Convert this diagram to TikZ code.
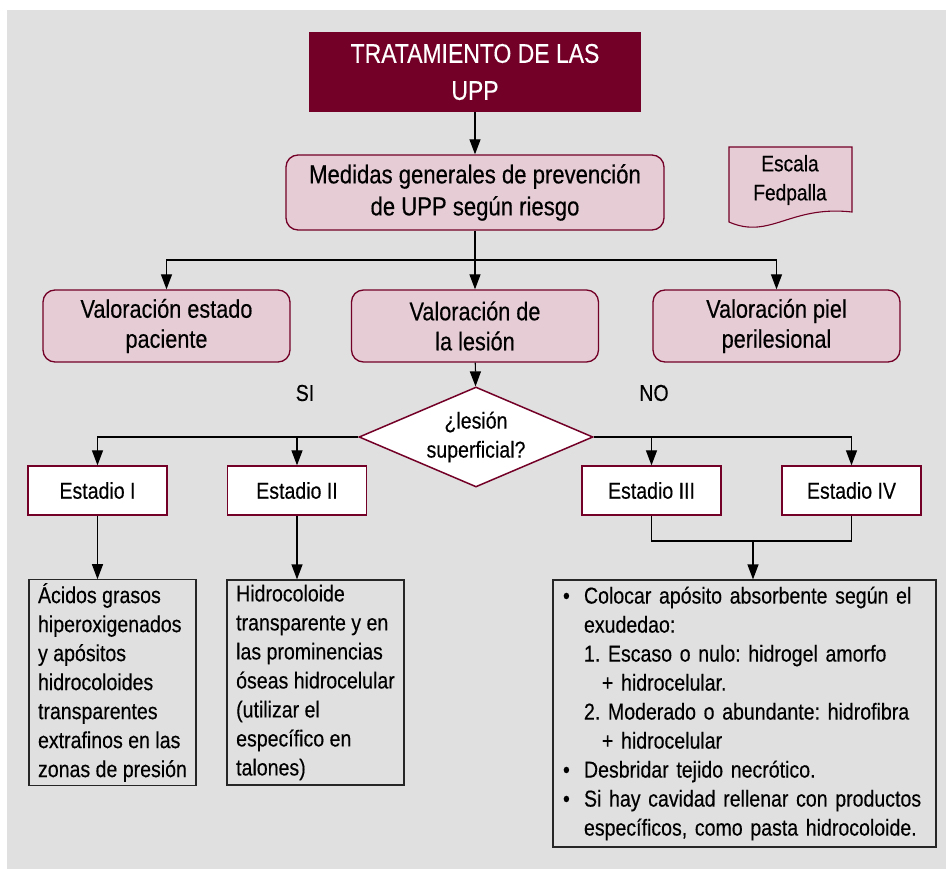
\documentclass[tikz,border=0pt]{standalone}
\usepackage{fontspec}
\setmainfont{Liberation Sans}[FakeStretch=0.85,FakeBold=0.35]
\usetikzlibrary{shapes.geometric,arrows.meta}
\definecolor{granate}{RGB}{115,0,38}
\definecolor{rosa}{RGB}{229,204,213}
\definecolor{fondo}{RGB}{224,224,224}
\frenchspacing
\begin{document}
\begin{tikzpicture}[x=1pt, y=-1pt,
  caja/.style={shape=rectangle, rounded corners=12pt, draw=granate, fill=rosa, line width=1.3pt, minimum width=247pt, minimum height=72pt, align=center, font=\fontsize{25.5}{30}\selectfont},
  estadio/.style={shape=rectangle, draw=granate, fill=white, line width=1.3pt, minimum width=139pt, minimum height=49pt, font=\fontsize{23}{29}\selectfont},
  texto/.style={shape=rectangle, draw=black!85, line width=1.2pt, align=left, font=\fontsize{23}{29}\selectfont},
  rotulo/.style={font=\fontsize{23}{29}\selectfont},
  flecha/.style={-{Triangle[length=15pt,width=11pt]}, line width=1.2pt, draw=black},
  linea/.style={-, line width=1.2pt, draw=black}]
\useasboundingbox (0,0) rectangle (946,869);
\fill[fondo] (7,10) rectangle (946,869);
% cabecera
\node[shape=rectangle, fill=granate, text=white, minimum width=332pt, minimum height=80pt, align=center, font=\fontsize{27}{37}\selectfont] (titulo) at (475,72) {TRATAMIENTO DE LAS\\UPP};
\node[caja, minimum width=378pt, minimum height=75pt, font=\fontsize{26}{32}\selectfont] (medidas) at (475,192.5) {Medidas generales de prevención\\de UPP según riesgo};
\draw[granate, fill=rosa, line width=1.1pt] (729,147) -- (852,147) -- (852,212) .. controls (790,205) and (770,240) .. (729,222) -- cycle;
\node[align=center, font=\fontsize{22.5}{29}\selectfont] (escala) at (790,180) {Escala\\Fedpalla};
% valoraciones
\node[caja] (valpaciente) at (166.5,326) {Valoración estado\\paciente};
\node[caja] (vallesion) at (475,326) {Valoración de\\la lesión};
\node[caja] (valpiel) at (776.5,326) {Valoración piel\\perilesional};
\node[rotulo] (si) at (305,393) {SI};
\node[rotulo] (no) at (654,393) {NO};
\node[shape=diamond, draw=granate, fill=white, line width=1.5pt, aspect=2.34, inner sep=0pt, minimum width=234pt, minimum height=100pt, align=center, font=\fontsize{23}{29}\selectfont] (lesion) at (476,437) {¿lesión\\superficial?};
% estadios
\node[estadio] (est1) at (97.5,490.5) {Estadio I};
\node[estadio] (est2) at (297,490.5) {Estadio II};
\node[estadio] (est3) at (651.5,490.5) {Estadio III};
\node[estadio] (est4) at (851.5,490.5) {Estadio IV};
\node[texto, minimum width=167pt, minimum height=205pt] (acidos) at (112.5,682.5) {Ácidos grasos\\hiperoxigenados\\y apósitos\\hidrocoloides\\transparentes\\extrafinos en las\\zonas de presión};
\node[texto, minimum width=177pt, minimum height=205pt] (hidro) at (315.5,682.5) {Hidrocoloide\\transparente y en\\las prominencias\\óseas hidrocelular\\(utilizar el\\específico en\\talones)};
\node[texto, minimum width=383pt, minimum height=267pt, text width=363pt] (cuidados) at (744.5,713.5) {%
\makebox[21pt][l]{\textbullet}Colocar apósito absorbente según el\\
\hspace*{21pt}exudedao:\\
\hspace*{21pt}1. Escaso o nulo: hidrogel amorfo\\
\hspace*{39pt}+ hidrocelular.\\
\hspace*{21pt}2. Moderado o abundante: hidrofibra\\
\hspace*{39pt}+ hidrocelular\\
\makebox[21pt][l]{\textbullet}Desbridar tejido necrótico.\\
\makebox[21pt][l]{\textbullet}Si hay cavidad rellenar con productos\\
\hspace*{21pt}específicos, como pasta hidrocoloide.};
% conexiones
\coordinate (reparto) at (475,260);
\coordinate (union) at (753,541);
\path[flecha] (titulo) edge (medidas);
\draw[linea] (medidas) -- (reparto);
\draw[flecha] (reparto) -| (valpaciente);
\draw[flecha] (reparto) -- (vallesion);
\draw[flecha] (reparto) -| (valpiel);
\path[flecha] (vallesion) edge (lesion);
\draw[flecha] (lesion.west) -| (est1);
\draw[flecha] (lesion.west) -| (est2);
\draw[flecha] (lesion.east) -| (est3);
\draw[flecha] (lesion.east) -| (est4);
\draw[flecha] (est1) -- (acidos.north -| est1);
\draw[flecha] (est2) -- (hidro.north -| est2);
\draw[linea] (est3) |- (union);
\draw[linea] (est4) |- (union);
\draw[flecha] (union) -- (cuidados.north -| union);
\end{tikzpicture}
\end{document}
